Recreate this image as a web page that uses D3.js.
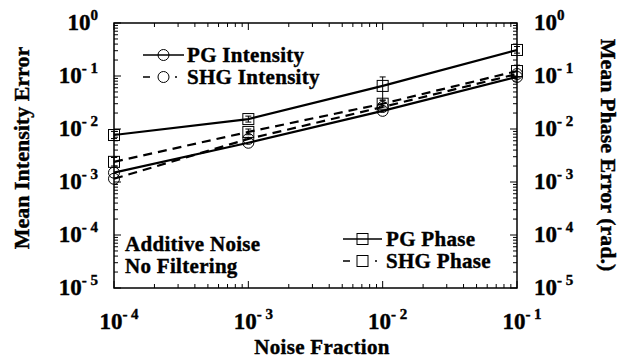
<!DOCTYPE html>
<html>
<head>
<meta charset="utf-8">
<script src="https://cdn.jsdelivr.net/npm/d3@7"></script>
<style>
  html, body { margin: 0; padding: 0; background: #fff; }
  svg { display: block; font-family: "Liberation Serif", "Times New Roman", serif; font-weight: bold; }
  svg text { stroke: #000; stroke-width: 0.4px; }
</style>
</head>
<body>
<svg id="chart" width="624" height="358"></svg>
<script>
// Noise fraction (x) and mean errors for each reconstruction
const noiseFraction = [1e-4, 1e-3, 1e-2, 1e-1];
const pgIntensity  = [1.5e-3, 5.5e-3, 0.022, 0.096];
const shgIntensity = [1.15e-3, 6.5e-3, 0.026, 0.109];
const pgPhase      = [7.7e-3, 0.0154, 0.065, 0.31];
const shgPhase     = [2.4e-3, 0.0088, 0.030, 0.124];

// Error bar extents [low, high]
const pgPhaseErr   = [[6.6e-3, 9.0e-3], [0.0135, 0.0175], [0.035, 0.096], [0.27, 0.36]];
const shgPhaseErr  = [[2.0e-3, 2.9e-3], [0.0078, 0.0100], [0.026, 0.035], [0.095, 0.16]];

const xTickExps = [-4, -3, -2, -1];
const yTickExps = [0, -1, -2, -3, -4, -5];

const svg = d3.select("#chart");
const plot = { left: 114, right: 517, top: 23, bottom: 288 };

const x = d3.scaleLog().domain([1e-4, 1e-1]).range([plot.left, plot.right]);
const y = d3.scaleLog().domain([1e-5, 1]).range([plot.bottom, plot.top]);

// Log ticks: majors at decades, minors at 2..9
function logTicks(lo, hi) {
  const out = [];
  for (let e = lo; e < hi; e++) {
    for (let m = 1; m < 10; m++) out.push({ v: m * Math.pow(10, e), major: m === 1 });
  }
  out.push({ v: Math.pow(10, hi), major: true });
  return out;
}
const xt = logTicks(-4, -1);
const yt = logTicks(-5, 0);

const g = svg.append("g");

// Frame
g.append("rect")
  .attr("x", plot.left).attr("y", plot.top)
  .attr("width", plot.right - plot.left).attr("height", plot.bottom - plot.top)
  .attr("fill", "none").attr("stroke", "#000").attr("stroke-width", 1.5);

// Inward ticks on all four sides
const tickG = g.append("g").attr("stroke", "#000").attr("stroke-width", 1);
xt.forEach(t => {
  const len = t.major ? 7 : 4;
  const px = x(t.v);
  tickG.append("line").attr("x1", px).attr("x2", px).attr("y1", plot.bottom).attr("y2", plot.bottom - len);
  tickG.append("line").attr("x1", px).attr("x2", px).attr("y1", plot.top).attr("y2", plot.top + len);
});
yt.forEach(t => {
  const len = t.major ? 7 : 4;
  const py = y(t.v);
  tickG.append("line").attr("y1", py).attr("y2", py).attr("x1", plot.left).attr("x2", plot.left + len);
  tickG.append("line").attr("y1", py).attr("y2", py).attr("x1", plot.right).attr("x2", plot.right - len);
});

// Power-of-ten labels
function powLabel(sel, exp) {
  sel.append("tspan").text("10");
  sel.append("tspan").attr("font-size", 15).attr("dy", -10)
    .text(exp === 0 ? "0" : "- " + Math.abs(exp));
}
xTickExps.forEach(e => {
  const t = g.append("text").attr("x", x(Math.pow(10, e)) + 5).attr("y", 329)
    .attr("text-anchor", "middle").attr("font-size", 23);
  powLabel(t, e);
});
yTickExps.forEach(e => {
  const py = y(Math.pow(10, e));
  const tl = g.append("text").attr("x", 98).attr("y", py + 7)
    .attr("text-anchor", "end").attr("font-size", 23);
  powLabel(tl, e);
  const tr = g.append("text").attr("x", 534).attr("y", py + 7)
    .attr("text-anchor", "start").attr("font-size", 23);
  powLabel(tr, e);
});

// Axis titles
g.append("text").attr("x", 322).attr("y", 354).attr("text-anchor", "middle")
  .attr("font-size", 21).attr("letter-spacing", 0.3).text("Noise Fraction");
g.append("text").attr("transform", "translate(29,148) rotate(-90)")
  .attr("text-anchor", "middle").attr("font-size", 22).text("Mean Intensity Error");
g.append("text").attr("transform", "translate(601,155) rotate(90)")
  .attr("text-anchor", "middle").attr("font-size", 22).text("Mean Phase Error (rad.)");

// Series
const series = [
  { name: "PG Intensity",  values: pgIntensity,  dash: null,  marker: "circle" },
  { name: "SHG Intensity", values: shgIntensity, dash: "9,6", marker: "circle" },
  { name: "PG Phase",      values: pgPhase,      dash: null,  marker: "square", err: pgPhaseErr },
  { name: "SHG Phase",     values: shgPhase,     dash: "9,6", marker: "square", err: shgPhaseErr }
];

const line = d3.line().x(d => x(d[0])).y(d => y(d[1]));

function drawMarker(sel, kind, cx, cy) {
  if (kind === "circle") {
    sel.append("circle").attr("cx", cx).attr("cy", cy).attr("r", 5.5)
      .attr("fill", "none").attr("stroke", "#000").attr("stroke-width", 1);
  } else {
    sel.append("rect").attr("x", cx - 5.5).attr("y", cy - 5.5).attr("width", 11).attr("height", 11)
      .attr("fill", "none").attr("stroke", "#000").attr("stroke-width", 1);
  }
}

series.forEach(s => {
  const pts = noiseFraction.map((n, i) => [n, s.values[i]]);
  g.append("path").datum(pts).attr("d", line)
    .attr("fill", "none").attr("stroke", "#000").attr("stroke-width", 2.2)
    .attr("stroke-dasharray", s.dash);
  if (s.err) {
    s.err.forEach((e, i) => {
      const px = x(noiseFraction[i]);
      g.append("line").attr("x1", px).attr("x2", px).attr("y1", y(e[0])).attr("y2", y(e[1]))
        .attr("stroke", "#000").attr("stroke-width", 1);
      [e[0], e[1]].forEach(v => g.append("line")
        .attr("x1", px - 3).attr("x2", px + 3).attr("y1", y(v)).attr("y2", y(v))
        .attr("stroke", "#000").attr("stroke-width", 1));
    });
  }
  pts.forEach(p => drawMarker(g, s.marker, x(p[0]), y(p[1])));
});

// Legends
function legendRow(s, x0, x1, cy, tx) {
  const mid = (x0 + x1) / 2;
  g.append("line").attr("x1", x0).attr("x2", x1).attr("y1", cy).attr("y2", cy)
    .attr("stroke", "#000").attr("stroke-width", 1.5)
    .attr("stroke-dasharray", s.dash ? "7,7,0,18,2,10" : null);
  drawMarker(g, s.marker, mid, cy);
  g.append("text").attr("x", tx).attr("y", cy + 7).attr("font-size", 21)
    .attr("letter-spacing", 0.3).text(s.name);
}
legendRow(series[0], 143, 184, 55, 187);
legendRow(series[1], 143, 184, 77, 187);
legendRow(series[2], 343, 382, 239, 386);
legendRow(series[3], 343, 382, 261, 386);

// Annotation
g.append("text").attr("x", 125).attr("y", 251).attr("font-size", 21)
  .attr("letter-spacing", 0.3).text("Additive Noise");
g.append("text").attr("x", 125).attr("y", 273).attr("font-size", 21)
  .attr("letter-spacing", 0.3).text("No Filtering");
</script>
</body>
</html>
